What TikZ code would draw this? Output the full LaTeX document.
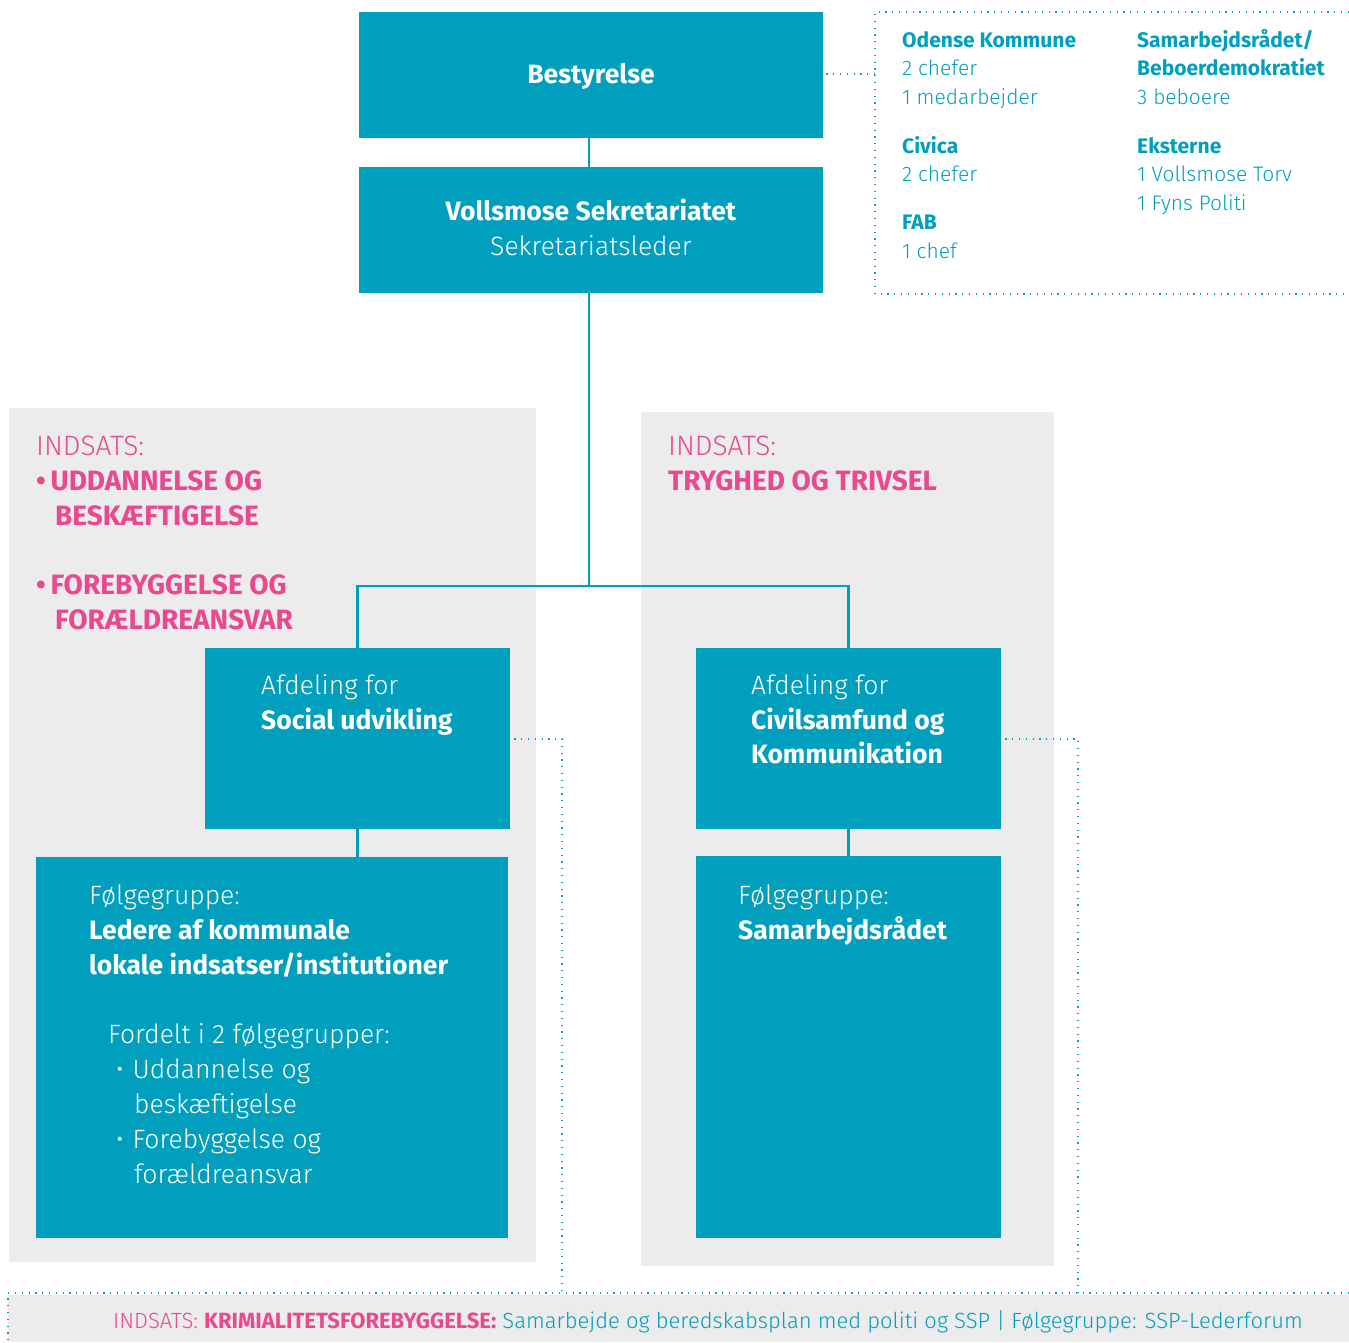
\documentclass[tikz,border=0pt]{standalone}
\usepackage{fontspec}
\setmainfont{Fira Sans}[UprightFont=* Light, BoldFont=* Bold]
\definecolor{teal}{RGB}{0,159,189}
\definecolor{pinkc}{RGB}{234,72,143}
\definecolor{greyc}{RGB}{236,236,236}
\begin{document}
\begin{tikzpicture}[x=1pt,y=-1pt,
  box/.style={fill=teal,draw=none},
  panel/.style={fill=greyc,draw=none},
  conn/.style={draw=teal,line width=2.5pt},
  dotc/.style={draw=teal,line width=1.8pt,dash pattern=on 1.2pt off 5.6pt},
  txt/.style={anchor=base west,inner sep=0pt,font=\fontsize{26.5}{35}\selectfont},
  wt/.style={txt,text=white},
  pt/.style={anchor=base west,inner sep=0pt,text=pinkc,font=\fontsize{28}{35}\selectfont},
  small/.style={anchor=base west,inner sep=0pt,text=teal,font=\fontsize{21}{28}\selectfont}]
\useasboundingbox (0,0) rectangle (1349,1342);
% panels
\fill[panel] (9,408) rectangle (536,1262);
\fill[panel] (641,412) rectangle (1054,1266);
\fill[panel] (8,1295) rectangle (1349,1342);
% boxes
\node[box,minimum width=464pt,minimum height=126pt,anchor=north west] (best) at (359,12) {};
\node[box,minimum width=464pt,minimum height=126pt,anchor=north west] (sek) at (359,167) {};
\node[box,minimum width=305pt,minimum height=181pt,anchor=north west] (dl) at (205,648) {};
\node[box,minimum width=305pt,minimum height=181pt,anchor=north west] (dr) at (696,648) {};
\node[box,minimum width=472pt,minimum height=381pt,anchor=north west] (fl) at (36,857) {};
\node[box,minimum width=305pt,minimum height=382pt,anchor=north west] (fr) at (696,856) {};
% connectors
\coordinate (split) at (589,586);
\draw[conn] (best.south -| split) -- (sek.north -| split);
\draw[conn] (sek.south -| split) -- (split);
\draw[conn] (split) -- (dl.north |- split) -- (dl.north);
\draw[conn] (split) -- (dr.north |- split) -- (dr.north);
\draw[conn] (dl.south) -- (fl.north -| dl.south);
\draw[conn] (dr.south) -- (fr.north -| dr.south);
% dotted box top right
\coordinate (tr1) at (1349,12);
\coordinate (tr2) at (875,12);
\coordinate (tr3) at (875,294);
\coordinate (tr4) at (1349,294);
\draw[dotc] (tr1) -- (tr2) -- (tr3) -- (tr4);
\draw[dotc] (best.east |- 0,74) ++(3,0) -- (875,74);
% bottom bar dotted
\coordinate (bb1) at (1349,1293);
\coordinate (bb2) at (8,1293);
\coordinate (bb3) at (8,1342);
\draw[dotc] (bb1) -- (bb2) -- (bb3);
\coordinate (dlc) at (562,739);
\coordinate (drc) at (1078,739);
\draw[dotc] (dl.east |- dlc) ++(4,0) -- (dlc) -- (562,1293);
\draw[dotc] (dr.east |- drc) ++(4,0) -- (drc) -- (1078,1293);
% box texts
\node[wt,anchor=base] (t1) at (591,83) {\textbf{Bestyrelse}};
\node[wt,anchor=base] (t2) at (591,220) {\textbf{Vollsmose Sekretariatet}};
\node[wt,anchor=base] (t3) at (591,255) {Sekretariatsleder};
% left panel
\node[pt] (p1) at (36,455) {INDSATS:};
\node[pt] (p2) at (36,490) {\textbf{•\,UDDANNELSE OG}};
\node[pt] (p3) at (55,525) {\textbf{BESKÆFTIGELSE}};
\node[pt] (p4) at (36,594) {\textbf{•\,FOREBYGGELSE OG}};
\node[pt] (p5) at (55,629) {\textbf{FORÆLDREANSVAR}};
% right panel
\node[pt] (q1) at (668,455) {INDSATS:};
\node[pt] (q2) at (668,490) {\textbf{TRYGHED OG TRIVSEL}};
% dept texts
\node[wt] (a1) at (261,694) {Afdeling for};
\node[wt] (a2) at (261,729) {\textbf{Social udvikling}};
\node[wt] (b1) at (751,694) {Afdeling for};
\node[wt] (b2) at (751,729) {\textbf{Civilsamfund og}};
\node[wt] (b3) at (751,763) {\textbf{Kommunikation}};
% follow texts
\node[wt] (c1) at (89,904) {Følgegruppe:};
\node[wt] (c2) at (89,939) {\textbf{Ledere af kommunale}};
\node[wt] (c3) at (89,974) {\textbf{lokale indsatser/institutioner}};
\node[wt] (c4) at (108,1043) {Fordelt i 2 følgegrupper:};
\node[wt] (c5) at (116,1078) {•\,\,Uddannelse og};
\node[wt] (c6) at (134,1113) {beskæftigelse};
\node[wt] (c7) at (116,1148) {•\,\,Forebyggelse og};
\node[wt] (c8) at (134,1183) {forældreansvar};
\node[wt] (d1) at (738,904) {Følgegruppe:};
\node[wt] (d2) at (738,939) {\textbf{Samarbejdsrådet}};
% top right texts
\node[small] (e1) at (902,47) {\textbf{Odense Kommune}};
\node[small] (e2) at (902,75) {2 chefer};
\node[small] (e3) at (902,104) {1 medarbejder};
\node[small] (e4) at (902,153) {\textbf{Civica}};
\node[small] (e5) at (902,181) {2 chefer};
\node[small] (e6) at (902,229) {\textbf{FAB}};
\node[small] (e7) at (902,258) {1 chef};
\node[small] (f1) at (1137,47) {\textbf{Samarbejdsrådet/}};
\node[small] (f2) at (1137,75) {\textbf{Beboerdemokratiet}};
\node[small] (f3) at (1137,104) {3 beboere};
\node[small] (f4) at (1137,153) {\textbf{Eksterne}};
\node[small] (f5) at (1137,181) {1 Vollsmose Torv};
\node[small] (f6) at (1137,210) {1 Fyns Politi};
% bottom text
\node[anchor=base,inner sep=0pt,font=\fontsize{22}{28}\selectfont] (g1) at (708,1328)
  {\textcolor{pinkc}{INDSATS: \textbf{KRIMIALITETSFOREBYGGELSE:}} \textcolor{teal}{Samarbejde og beredskabsplan med politi og SSP | Følgegruppe: SSP-Lederforum}};
\end{tikzpicture}
\end{document}
